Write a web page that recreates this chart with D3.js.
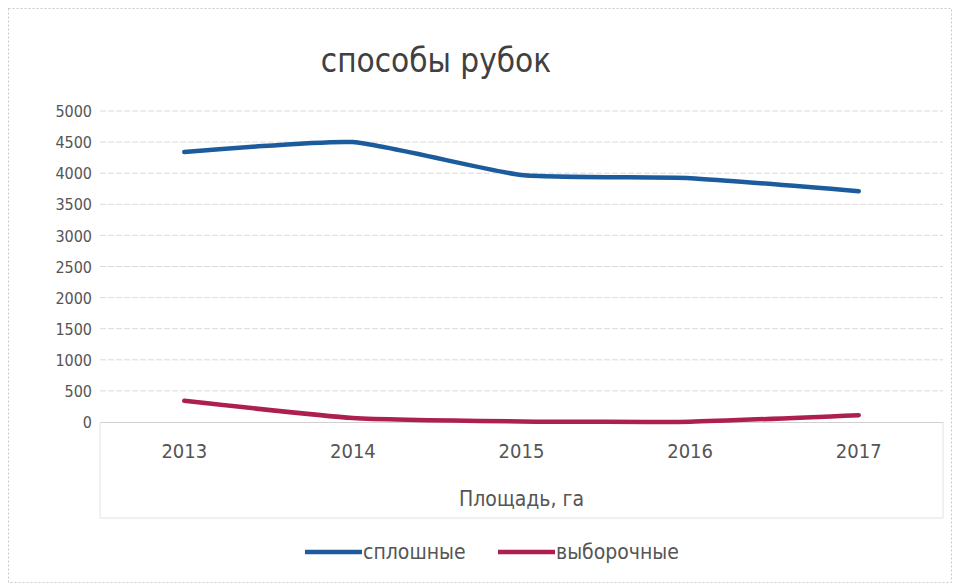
<!DOCTYPE html>
<html>
<head>
<meta charset="utf-8">
<script src="https://cdn.jsdelivr.net/npm/d3@7"></script>
<style>
  body { margin: 0; background: #fff; }
  svg text { font-family: "DejaVu Sans Condensed", "Liberation Sans Narrow", sans-serif; fill: #555; }
</style>
</head>
<body>
<svg id="chart"></svg>
<script>
const years = ["2013", "2014", "2015", "2016", "2017"];
const sploshnye = [4340, 4500, 3970, 3920, 3710];
const vyborochnye = [340, 65, 10, 5, 110];
const yTicks = [0, 500, 1000, 1500, 2000, 2500, 3000, 3500, 4000, 4500, 5000];
const seriesNames = ["сплошные", "выборочные"];
const colors = ["#1c5c9c", "#ac1f4e"];

const width = 960, height = 584;
const svg = d3.select("#chart").attr("width", width).attr("height", height);

const margin = { top: 111, right: 17, bottom: 162, left: 100 };

const x = d3.scaleBand().domain(years).range([margin.left, width - margin.right]);
const y = d3.scaleLinear().domain([0, 5000]).range([height - margin.bottom, margin.top]);

// outer frame
svg.append("rect")
    .attr("x", 8.5).attr("y", 8.5).attr("width", width - 17).attr("height", height - 10)
    .attr("fill", "none").attr("stroke", "#c8c8c8").attr("stroke-dasharray", "2,2");

// title
svg.append("text")
    .attr("x", 436).attr("y", 72)
    .attr("text-anchor", "middle")
    .style("font-size", "33px")
    .style("fill", "#404040")
    .text("способы рубок");

// gridlines
svg.append("g")
    .selectAll("line")
    .data(yTicks.filter(d => d > 0))
    .join("line")
    .attr("x1", margin.left).attr("x2", width - margin.right)
    .attr("y1", d => y(d)).attr("y2", d => y(d))
    .attr("stroke", "#dadada").attr("stroke-width", 1)
    .attr("stroke-dasharray", "6,2");

// y axis
const yAxis = svg.append("g")
    .attr("transform", `translate(${margin.left - 8},0)`)
    .call(d3.axisLeft(y).tickValues(yTicks).tickFormat(d3.format("d")).tickSize(0).tickPadding(0));
yAxis.select(".domain").remove();
yAxis.selectAll("text").style("font-size", "16px").attr("dy", "0.35em");

// x axis
const xAxis = svg.append("g")
    .attr("transform", `translate(0,${y(0)})`)
    .call(d3.axisBottom(x).tickSize(0).tickPadding(24));
xAxis.select(".domain").attr("stroke", "#d0d0d0");
xAxis.selectAll("text").style("font-size", "20px").attr("dy", "0.6em");

// axis title box
svg.append("path")
    .attr("d", `M${margin.left},${y(0)}V518H${width - margin.right}V${y(0)}`)
    .attr("fill", "none").attr("stroke", "#e2e2e2");

svg.append("text")
    .attr("x", (margin.left + width - margin.right) / 2).attr("y", 506)
    .attr("text-anchor", "middle")
    .style("font-size", "21px")
    .text("Площадь, га");

// lines (Excel-like light smoothing)
const line = d3.line()
    .x((d, i) => x(years[i]) + x.bandwidth() / 2)
    .y(d => y(d))
    .curve(d3.curveCardinal.tension(0.5));

[sploshnye, vyborochnye].forEach((s, i) => {
    svg.append("path")
        .datum(s)
        .attr("fill", "none")
        .attr("stroke", colors[i])
        .attr("stroke-width", 4.5)
        .attr("stroke-linecap", "round")
        .attr("d", line);
});

// legend
const legendX = [305, 498];
const legend = svg.append("g").selectAll("g")
    .data(seriesNames)
    .join("g")
    .attr("transform", (d, i) => `translate(${legendX[i]},552)`);
legend.append("line")
    .attr("x1", 0).attr("x2", 57).attr("y1", 0).attr("y2", 0)
    .attr("stroke", (d, i) => colors[i]).attr("stroke-width", 4.5);
legend.append("text")
    .attr("x", 58).attr("dy", "0.35em")
    .style("font-size", "21px")
    .text(d => d);
</script>
</body>
</html>
